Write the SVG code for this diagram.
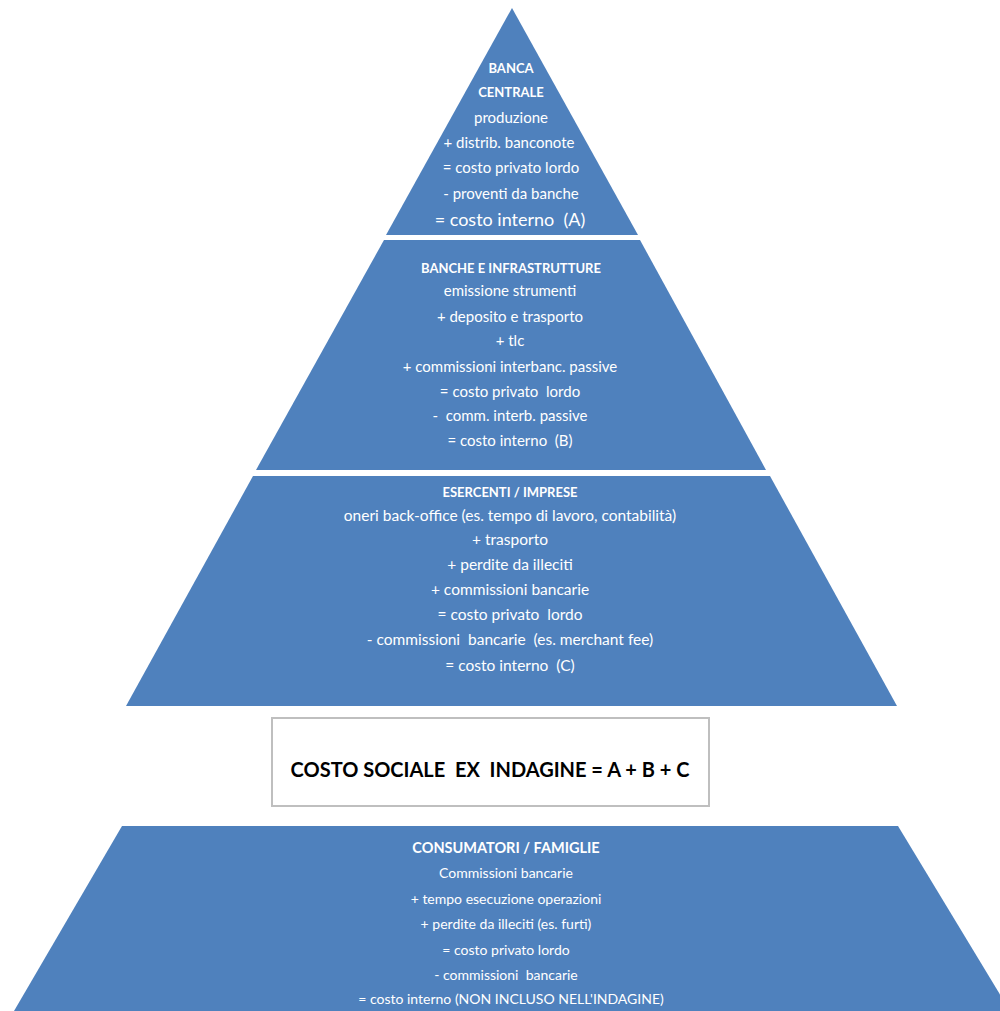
<svg xmlns="http://www.w3.org/2000/svg" width="1000" height="1011" viewBox="0 0 1000 1011">
<style>
.tier{fill:#4F81BD;}
text{white-space:pre;}
.t{font-family:Lato,"Open Sans","Liberation Sans",sans-serif;fill:#fff;text-anchor:middle;font-size:15px;}
.c{font-size:15.5px;}
.s{font-size:14px;}
.h{font-weight:bold;font-size:13px;}
.box{fill:#fff;stroke:#BFBFBF;stroke-width:2;}
.bt{font-family:Lato,"Open Sans","Liberation Sans",sans-serif;fill:#000;text-anchor:middle;font-size:20px;font-weight:bold;}
</style>
<rect width="1000" height="1011" fill="#fff"/>
<g id="banca-centrale">
<polygon class="tier" points="512,8 638,235 386,235"/>
<text class="t h" x="511" y="73">BANCA</text>
<text class="t h" x="511" y="97">CENTRALE</text>
<text class="t" x="511" y="123">produzione</text>
<text class="t" x="509" y="148">+ distrib. banconote</text>
<text class="t" x="511" y="173">= costo privato lordo</text>
<text class="t" x="511" y="199">- proventi da banche</text>
<text class="t" x="510" y="226" style="font-size:18px">= costo interno  (A)</text>
</g>
<g id="banche-infrastrutture">
<polygon class="tier" points="384,240 640,240 766,470 256,470"/>
<text class="t h" x="511" y="273">BANCHE E INFRASTRUTTURE</text>
<text class="t" x="510" y="296">emissione strumenti</text>
<text class="t" x="510" y="322">+ deposito e trasporto</text>
<text class="t" x="510" y="346">+ tlc</text>
<text class="t" x="510" y="372">+ commissioni interbanc. passive</text>
<text class="t" x="510" y="397">= costo privato  lordo</text>
<text class="t" x="510" y="421">-  comm. interb. passive</text>
<text class="t" x="510" y="446">= costo interno  (B)</text>
</g>
<g id="esercenti-imprese">
<polygon class="tier" points="253,476 770,476 897,706 126,706"/>
<text class="t h" x="510" y="497">ESERCENTI / IMPRESE</text>
<text class="t c" x="510" y="521">oneri back-office (es. tempo di lavoro, contabilità)</text>
<text class="t c" x="510" y="545">+ trasporto</text>
<text class="t c" x="510" y="570">+ perdite da illeciti</text>
<text class="t c" x="510" y="595">+ commissioni bancarie</text>
<text class="t c" x="510" y="620">= costo privato  lordo</text>
<text class="t c" x="510" y="645">- commissioni  bancarie  (es. merchant fee)</text>
<text class="t c" x="510" y="671">= costo interno  (C)</text>
</g>
<g id="costo-sociale">
<rect class="box" x="272" y="718" width="437" height="88"/>
<text class="bt" x="490" y="777">COSTO SOCIALE  EX  INDAGINE = A + B + C</text>
</g>
<g id="consumatori-famiglie">
<polygon class="tier" points="122,826 898,826 1010,1011 14,1011"/>
<text class="t h" x="506" y="853" style="font-size:14.5px">CONSUMATORI / FAMIGLIE</text>
<text class="t s" x="506" y="878">Commissioni bancarie</text>
<text class="t s" x="506" y="904">+ tempo esecuzione operazioni</text>
<text class="t s" x="506" y="929">+ perdite da illeciti (es. furti)</text>
<text class="t s" x="506" y="955">= costo privato lordo</text>
<text class="t s" x="506" y="980">- commissioni  bancarie</text>
<text class="t s" x="511" y="1004">= costo interno (NON INCLUSO NELL'INDAGINE)</text>
</g>
<g id="connectors"></g>
</svg>
